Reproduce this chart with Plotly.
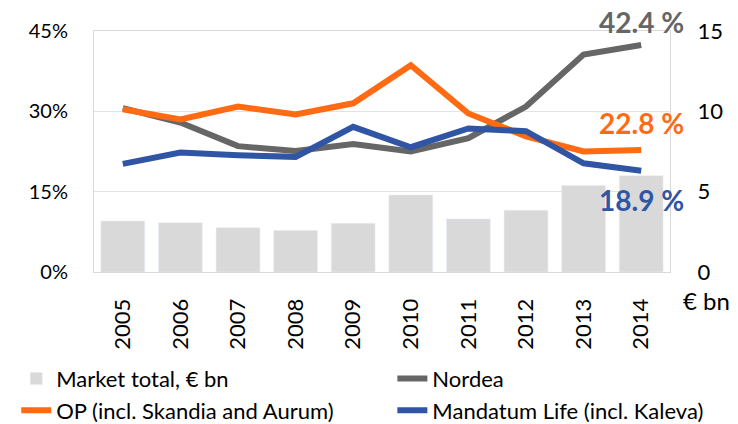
import plotly.graph_objects as go

years = ['2005', '2006', '2007', '2008', '2009', '2010', '2011', '2012', '2013', '2014']
market_total = [3.17, 3.07, 2.76, 2.59, 3.03, 4.79, 3.30, 3.84, 5.39, 5.99]
nordea = [30.6, 27.9, 23.5, 22.6, 23.9, 22.5, 25.0, 30.9, 40.6, 42.4]
op = [30.4, 28.5, 30.9, 29.4, 31.5, 38.6, 29.6, 25.3, 22.5, 22.8]
mandatum = [20.2, 22.3, 21.8, 21.5, 27.1, 23.3, 26.8, 26.3, 20.3, 18.9]

FONT = 'Lato'
GREY = '#666666'
ORANGE = '#FF6A13'
BLUE = '#2F55A4'

fig = go.Figure()

# bars on the right-hand axis (drawn underneath)
fig.add_trace(go.Bar(x=years, y=market_total, name='Market total, € bn',
                     marker_color='#D9D9D9', yaxis='y', legend='legend'))

# market shares on the left-hand axis (overlaid, drawn on top)
fig.add_trace(go.Scatter(x=years, y=nordea, name='Nordea', mode='lines',
                         line=dict(color=GREY, width=6), yaxis='y2', legend='legend2'))
fig.add_trace(go.Scatter(x=years, y=op, name='OP (incl. Skandia and Aurum)', mode='lines',
                         line=dict(color=ORANGE, width=6), yaxis='y2', legend='legend'))
fig.add_trace(go.Scatter(x=years, y=mandatum, name='Mandatum Life (incl. Kaleva)', mode='lines',
                         line=dict(color=BLUE, width=6), yaxis='y2', legend='legend2'))

# end labels (x given as category index of the last year)
last = len(years) - 1
ends = [(nordea, GREY, 23), (op, ORANGE, 27), (mandatum, BLUE, -29)]
for series, col, shift in ends:
    fig.add_annotation(x=last, y=series[-1], xref='x', yref='y2',
                       text=f'{series[-1]:.1f} %', showarrow=False, yshift=shift,
                       font=dict(family=FONT, size=28, color=col, weight='bold'))

fig.add_annotation(x=1.0, y=-0.187, xref='paper', yref='paper', xanchor='left',
                   text='€ bn', showarrow=False, xshift=11,
                   font=dict(family=FONT, size=24, color='#000000'))

legend_style = dict(orientation='v', y=-0.356, xanchor='left', yanchor='top',
                    itemwidth=30, font=dict(family=FONT, size=22), tracegroupgap=0,
                    bgcolor='rgba(0,0,0,0)')

fig.update_layout(
    width=738, height=424,
    margin=dict(l=94, r=68, t=31, b=152, autoexpand=False),
    paper_bgcolor='white', plot_bgcolor='white',
    font=dict(family=FONT, size=22, color='#000000'),
    bargap=0.24,
    showlegend=True,
    legend=dict(x=-0.135, **legend_style),
    legend2=dict(x=0.518, **legend_style),
    xaxis=dict(type='category', range=[-0.5, last + 0.5], tickangle=-90, showgrid=False,
               showline=True, linecolor='#D9D9D9', mirror=True,
               tickfont=dict(size=22), ticks='', ticklabelstandoff=17),
    yaxis=dict(side='right', range=[0, 15], tickvals=[0, 5, 10, 15],
               showgrid=True, gridcolor='#E3E3E3', zeroline=False,
               showline=True, linecolor='#D9D9D9',
               tickfont=dict(size=22), ticks='', ticklabelstandoff=22),
    yaxis2=dict(side='left', overlaying='y', range=[0, 45], tickvals=[0, 15, 30, 45],
                ticktext=['0%', '15%', '30%', '45%'], showgrid=False, zeroline=False,
                showline=True, linecolor='#D9D9D9',
                tickfont=dict(size=20), ticks='', ticklabelstandoff=21),
)

# page body has a default 8px margin; drop it so the figure sits at the window corner
fig.write_html('out.html', config={'displayModeBar': False},
               post_script="document.body.style.margin='0';")
